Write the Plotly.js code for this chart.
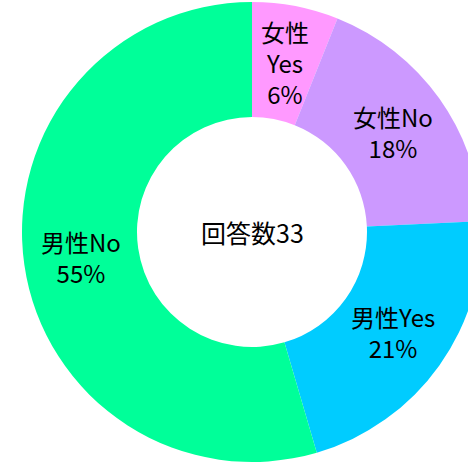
<!DOCTYPE html>
<html>
<head>
<meta charset="utf-8">
<script src="https://cdn.plot.ly/plotly-3.0.1.min.js"></script>
<style>
html, body { margin: 0; padding: 0; overflow: hidden; background: #fff; width: 468px; height: 463px; }
#chart { width: 504px; height: 463px; }
</style>
</head>
<body>
<div id="chart"></div>
<script>
// Data
const categories = ["女性Yes", "女性No", "男性Yes", "男性No"];
const displayLabels = ["女性<br>Yes", "女性No", "男性Yes", "男性No"];
const counts = [2, 6, 7, 18];
const colors = ["#FF99FF", "#CC99FF", "#00CCFF", "#00FF99"];
const centerLabel = "回答数";

const total = counts.reduce((a, b) => a + b, 0);
const FONT = "'Noto Sans CJK JP', 'Noto Sans', sans-serif";

// Figure geometry
const W = 504, H = 463;
const M = { l: 0, r: 0, t: 2, b: 1 };
const HOLE = 0.5;
const plotW = W - M.l - M.r, plotH = H - M.t - M.b;
const R = Math.min(plotW, plotH) / 2;
const rMid = R * (1 + HOLE) / 2;

const trace = {
  type: "pie",
  labels: categories,
  values: counts,
  textinfo: "none",
  hole: HOLE,
  sort: false,
  direction: "clockwise",
  rotation: 0,
  marker: { colors: colors, line: { width: 0 } },
  showlegend: false,
  hoverinfo: "label+value+percent"
};

// Slice labels placed at the middle of each ring segment (computed from data)
const annotations = [];
let cum = 0;
counts.forEach((v, i) => {
  const mid = (cum + v / 2) / total;
  cum += v;
  const ang = mid * 2 * Math.PI;
  const dx = rMid * Math.sin(ang);
  const dy = rMid * Math.cos(ang);
  const pct = Math.round(v / total * 100) + "%";
  annotations.push({
    text: displayLabels[i] + "<br>" + pct,
    x: 0.5 + dx / plotW,
    y: 0.5 + dy / plotH,
    xref: "paper", yref: "paper",
    xanchor: "center", yanchor: "middle",
    showarrow: false,
    font: { family: FONT, size: 24, color: "#000" }
  });
});
annotations.push({
  text: centerLabel + total,
  x: 0.5, y: 0.5, xref: "paper", yref: "paper",
  showarrow: false,
  font: { family: FONT, size: 25, color: "#000" }
});

const layout = {
  width: W,
  height: H,
  margin: { l: M.l, r: M.r, t: M.t, b: M.b, pad: 0 },
  paper_bgcolor: "#fff",
  showlegend: false,
  annotations: annotations
};

Plotly.newPlot("chart", [trace], layout, { displayModeBar: false, staticPlot: true });
</script>
</body>
</html>
